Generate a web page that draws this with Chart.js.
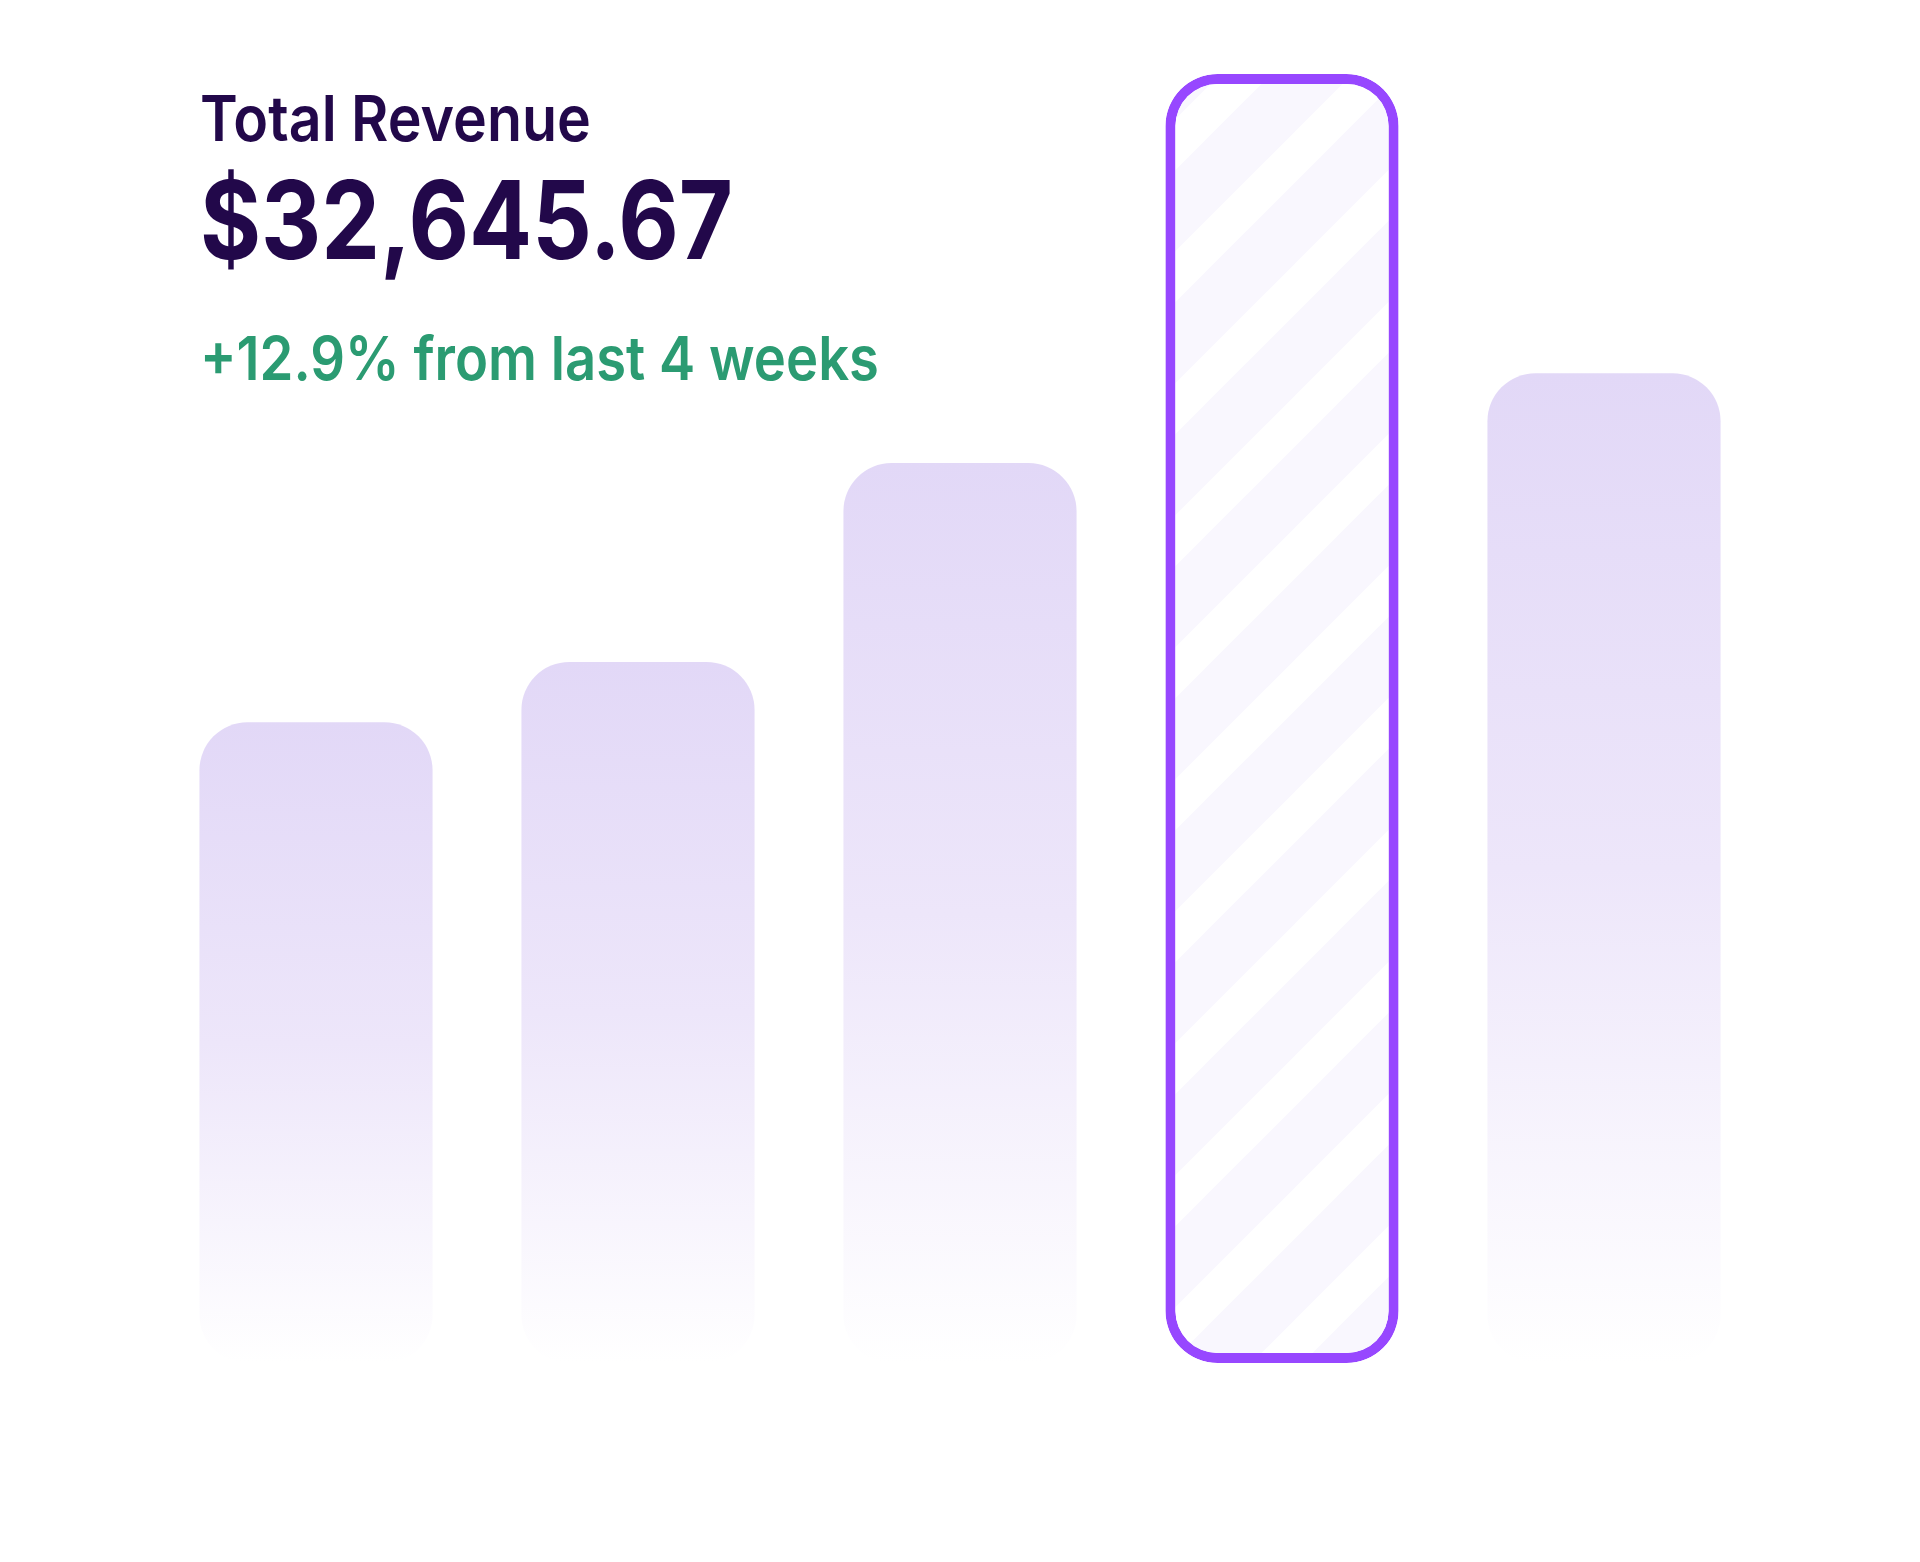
<!DOCTYPE html>
<html>
<head>
<meta charset="utf-8">
<script src="https://cdn.jsdelivr.net/npm/chart.js@4.4.0/dist/chart.umd.min.js"></script>
<style>
    html, body { margin: 0; padding: 0; background: #ffffff; }
    .wrap { position: relative; width: 1920px; height: 1562px; }
    #revenueChart { position: absolute; left: 0; top: 0; }
    .txt { position: absolute; left: 200px; font-family: Inter, "Noto Sans", sans-serif; line-height: 1; white-space: nowrap; transform-origin: 0 0; }
    .label { top: 87px; font-size: 63px; font-weight: 600; color: #22084a; }
    .total { top: 166px; font-size: 108px; font-weight: 700; color: #22084a; }
    .change { top: 328px; font-size: 61px; font-weight: 600; color: #2b9b72; }
</style>
</head>
<body>
<div class="wrap">
    <canvas id="revenueChart" width="1920" height="1562"></canvas>
    <div class="txt label" data-w="391">Total Revenue</div>
    <div class="txt total" data-w="533">$32,645.67</div>
    <div class="txt change" data-w="679">+12.9% from last 4 weeks</div>
</div>
<script>
const weeks = ['Week 1', 'Week 2', 'Week 3', 'Week 4', 'Week 5'];
const revenue = [4627, 5063, 6499, 9309, 7148];
const highlightIndex = 3;

// squeeze the headline texts to the width they have in the design
document.querySelectorAll('.txt').forEach(el => {
    const w = el.getBoundingClientRect().width;
    el.style.transform = `scaleX(${Number(el.dataset.w) / w})`;
});

// diagonal stripes for the selected week
const makeStripes = () => {
    const size = 132;
    const c = document.createElement('canvas');
    c.width = size;
    c.height = size;
    const g = c.getContext('2d');
    g.fillStyle = '#f9f7fe';
    g.fillRect(0, 0, size, size);
    g.strokeStyle = '#ffffff';
    g.lineWidth = 36;
    for (let k = -1; k <= 2; k++) {
        const d = k * size;
        g.beginPath();
        g.moveTo(-size, d + size);
        g.lineTo(d + size, -size);
        g.stroke();
    }
    return g.createPattern(c, 'repeat');
};
const stripes = makeStripes();

const barFill = (ctx) => {
    const chart = ctx.chart;
    if (ctx.dataIndex === highlightIndex) return stripes;
    if (!chart.chartArea) return '#e4daf7';
    const y = chart.scales.y;
    const top = y.getPixelForValue(revenue[ctx.dataIndex]);
    const bottom = y.getPixelForValue(0);
    const grad = chart.ctx.createLinearGradient(0, top, 0, bottom);
    grad.addColorStop(0, 'rgba(226, 216, 247, 1)');
    grad.addColorStop(0.5, 'rgba(237, 230, 250, 1)');
    grad.addColorStop(1, 'rgba(255, 255, 255, 1)');
    return grad;
};

new Chart(document.getElementById('revenueChart').getContext('2d'), {
    type: 'bar',
    data: {
        labels: weeks,
        datasets: [{
            data: revenue,
            backgroundColor: barFill,
            borderColor: weeks.map((w, i) => i === highlightIndex ? '#9747ff' : 'rgba(0,0,0,0)'),
            borderWidth: weeks.map((w, i) => i === highlightIndex ? 10 : 0),
            borderRadius: weeks.map((w, i) => i === highlightIndex ? 52 : 48),
            borderSkipped: false,
            barPercentage: 0.724,
            categoryPercentage: 1
        }]
    },
    options: {
        responsive: false,
        animation: false,
        layout: { padding: { left: 155, right: 155, top: 74, bottom: 199 } },
        scales: {
            x: { display: false },
            y: { display: false, min: 0, max: 9309 }
        },
        plugins: {
            legend: { display: false },
            tooltip: { enabled: false }
        }
    }
});
</script>
</body>
</html>
